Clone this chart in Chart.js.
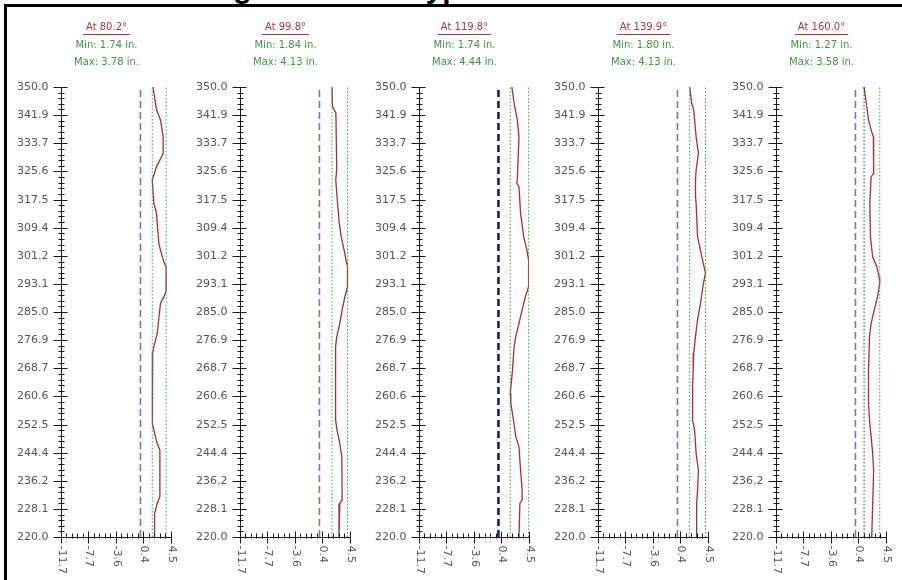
<!DOCTYPE html>
<html><head><meta charset="utf-8">
<script src="https://cdn.jsdelivr.net/npm/chart.js@4.4.1/dist/chart.umd.min.js"></script>
<style>
html,body{margin:0;padding:0;background:#fff;}
body{width:902px;height:580px;position:relative;overflow:hidden;}
#frame{position:absolute;left:4px;top:4px;width:1000px;height:700px;border-left:3px solid #000;border-top:3px solid #000;}
#title{position:absolute;top:-27px;left:0;font:bold 30px "Liberation Sans",Arial,sans-serif;line-height:30px;white-space:nowrap;color:#000;}
canvas{position:absolute;top:0;}
</style></head><body>
<div id="frame"></div>
<div id="title">Ultrasonic Scanning Results: Typical Section</div>
<canvas id="c0" width="178" height="580" style="left:0px"></canvas>
<canvas id="c1" width="178" height="580" style="left:179px"></canvas>
<canvas id="c2" width="178" height="580" style="left:358px"></canvas>
<canvas id="c3" width="178" height="580" style="left:537px"></canvas>
<canvas id="c4" width="178" height="580" style="left:715px"></canvas>
<script>
// ---- data ----
const panelAngles = ["80.2", "99.8", "119.8", "139.9", "160.0"];
const panelMin = [1.74, 1.84, 1.74, 1.80, 1.27];
const panelMax = [3.78, 4.13, 4.44, 4.13, 3.58];
const referenceLine = [0.0, 0.0, 0.0, 0.0, 0.0];
const yTickLabels = ["350.0","341.9","333.7","325.6","317.5","309.4","301.2","293.1","285.0","276.9","268.7","260.6","252.5","244.4","236.2","228.1","220.0"];
const xTickLabels = ["-11.7","-7.7","-3.6","0.4","4.5"];

const depth1 = [350, 343.4, 340.5, 335.6, 330.8, 327.0, 323.1, 316.4, 313.5, 310.6, 304.8, 302.9, 299.5, 298.1, 290.9, 289.4, 287.5, 278.8, 275.0, 273.1, 252.8, 250.9, 247.0, 245.1, 231.6, 229.7, 226.8, 220];
const wall1  = [1.84, 2.37, 2.95, 3.35, 3.35, 2.37, 1.74, 1.98, 2.37, 2.47, 2.71, 2.95, 3.44, 3.78, 3.78, 3.44, 2.95, 2.47, 1.98, 1.80, 1.76, 1.98, 2.47, 2.86, 2.86, 2.47, 2.08, 2.08];

const depth2 = [350, 344.4, 342.5, 326.2, 323.1, 318.3, 310.6, 306.7, 302.9, 300.0, 298.1, 292.3, 289.4, 285.6, 281.7, 277.9, 275.0, 253.8, 250.9, 247.0, 243.2, 230.7, 229.7, 220];
const wall2  = [1.84, 1.92, 2.42, 2.55, 2.40, 2.59, 2.92, 3.21, 3.63, 3.92, 4.13, 4.13, 3.75, 3.34, 3.00, 2.55, 2.38, 2.38, 2.59, 3.00, 3.30, 3.34, 3.00, 2.88];

const depth3 = [350, 345.3, 340.5, 335.6, 323.1, 322.2, 321.2, 313.5, 306.7, 302.9, 300.0, 292.3, 289.4, 285.6, 281.7, 277.9, 275.0, 268.2, 261.5, 258.6, 253.8, 249.0, 246.1, 239.3, 233.5, 230.7, 229.7, 220];
const wall3  = [1.98, 2.31, 2.78, 3.02, 2.78, 2.69, 3.02, 3.26, 3.73, 4.20, 4.44, 4.44, 3.97, 3.49, 3.02, 2.55, 2.31, 2.07, 1.74, 1.83, 2.21, 2.55, 3.02, 3.26, 3.49, 3.49, 3.16, 3.02];

const depth4 = [350, 345.3, 343.4, 340.5, 335.6, 330.8, 326.0, 323.1, 318.3, 316.4, 306.7, 302.9, 300.0, 296.2, 293.3, 287.5, 282.7, 277.9, 273.1, 268.2, 263.4, 253.8, 250.9, 244.1, 239.3, 233.5, 229.7, 220];
const wall4  = [1.80, 2.10, 2.40, 2.53, 2.75, 3.09, 2.75, 2.66, 2.66, 2.75, 2.96, 3.39, 3.70, 4.13, 3.83, 3.39, 2.96, 2.66, 2.40, 2.32, 2.23, 2.23, 2.53, 2.75, 3.09, 2.96, 2.83, 2.83];

const depth5 = [350, 345.3, 340.5, 337.6, 335.6, 325.0, 324.1, 316.4, 306.7, 300.9, 298.1, 295.2, 293.3, 289.4, 285.6, 281.7, 277.9, 268.2, 258.6, 253.8, 249.0, 244.1, 239.3, 229.7, 220];
const wall5  = [1.27, 1.60, 1.93, 2.31, 2.64, 2.68, 2.31, 2.12, 2.21, 2.54, 3.15, 3.48, 3.58, 3.25, 2.78, 2.31, 2.07, 1.93, 1.93, 2.07, 2.31, 2.54, 2.68, 2.54, 2.40];

const depths = [depth1, depth2, depth3, depth4, depth5];
const walls = [wall1, wall2, wall3, wall4, wall5];

// ---- styles ----
const refColors = ["#7474c4", "#7474c4", "#1c1c78", "#7474c4", "#7474c4"];
const refWidths = [1.6, 1.6, 2.6, 1.6, 1.6];
const minColors = ["#3fa33f", "#3fa33f", "#3fa33f", "#3fa33f", "#1f4a1f"];
const FONT = '"DejaVu Sans", Verdana, sans-serif';

const yVals = yTickLabels.map(parseFloat);
const xVals = xTickLabels.map(parseFloat);
const yMin = Math.min(...yVals), yMax = Math.max(...yVals);
const xMin = Math.min(...xVals), xMax = Math.max(...xVals);

const axesPlugin = {
  id: 'customAxes',
  afterDraw(chart) {
    const ctx = chart.ctx;
    const xs = chart.scales.x, ys = chart.scales.y;
    const idx = chart.options.plugins.customAxes.panel;
    const ax = Math.round(xs.getPixelForValue(xMin)) + 0.5;
    const axR = Math.round(xs.getPixelForValue(xMax)) + 0.5;
    const by = Math.round(ys.getPixelForValue(yMin)) + 0.5;
    const ty = Math.round(ys.getPixelForValue(yMax)) + 0.5;
    ctx.save();
    ctx.strokeStyle = '#1a1a1a';
    ctx.lineWidth = 1;
    const ln = (x1, y1, x2, y2) => { ctx.beginPath(); ctx.moveTo(x1, y1); ctx.lineTo(x2, y2); ctx.stroke(); };
    ln(ax, ty, ax, by);
    ln(ax, by, axR, by);
    // y ticks
    ctx.fillStyle = '#555';
    ctx.font = '11px ' + FONT;
    ctx.textAlign = 'right';
    ctx.textBaseline = 'middle';
    yVals.forEach((v, i) => {
      const py = Math.round(ys.getPixelForValue(v)) + 0.5;
      ctx.lineWidth = 1;
      ln(ax - 8, py, ax + 6, py);
      ctx.fillText(yTickLabels[i], ax - 13, py);
      if (i < yVals.length - 1) {
        const v2 = yVals[i + 1];
        for (let k = 1; k < 5; k++) {
          const pm = Math.round(ys.getPixelForValue(v + (v2 - v) * k / 5)) + 0.5;
          ln(ax - 3, pm, ax + 3, pm);
        }
      }
    });
    // x ticks
    xVals.forEach((v, i) => {
      const px = Math.round(xs.getPixelForValue(v)) + 0.5;
      ln(px, by - 6, px, by + 6);
      if (i < xVals.length - 1) {
        const v2 = xVals[i + 1];
        for (let k = 1; k < 5; k++) {
          const pm = Math.round(xs.getPixelForValue(v + (v2 - v) * k / 5)) + 0.5;
          ln(pm, by - 4, pm, by + 1);
        }
      }
      ctx.save();
      ctx.translate(px, by + 8);
      ctx.rotate(Math.PI / 2);
      ctx.textAlign = 'left';
      ctx.textBaseline = 'middle';
      ctx.fillText(xTickLabels[i], 0, 0);
      ctx.restore();
    });
    // header
    const cx = ax + 45;
    ctx.textAlign = 'center';
    ctx.textBaseline = 'middle';
    ctx.font = '10px ' + FONT;
    ctx.fillStyle = '#a83848';
    const t1 = 'At ' + panelAngles[idx] + '°';
    ctx.fillText(t1, cx, 27);
    const w = ctx.measureText(t1).width;
    ctx.strokeStyle = '#a83848';
    ln(cx - w / 2 - 3, 34.5, cx + w / 2 + 3, 34.5);
    ctx.fillStyle = '#3a9a3a';
    ctx.fillText('Min: ' + panelMin[idx].toFixed(2) + ' in.', cx, 45);
    ctx.fillText('Max: ' + panelMax[idx].toFixed(2) + ' in.', cx, 62);
    ctx.restore();
  }
};

for (let p = 0; p < 5; p++) {
  const vline = v => [{x: v, y: yMin}, {x: v, y: yMax}];
  new Chart(document.getElementById('c' + p), {
    type: 'scatter',
    data: {
      datasets: [
        { data: vline(referenceLine[p]), showLine: true, borderColor: refColors[p], borderWidth: refWidths[p], borderDash: [7, 4], pointRadius: 0 },
        { data: vline(panelMin[p]), showLine: true, borderColor: minColors[p], borderWidth: 1, borderDash: [1.5, 2], pointRadius: 0 },
        { data: vline(panelMax[p]), showLine: true, borderColor: '#3fa33f', borderWidth: 1, borderDash: [1.5, 2], pointRadius: 0 },
        { data: depths[p].map((d, i) => ({x: walls[p][i], y: d})), showLine: true, borderColor: '#a3303c', borderWidth: 1.3, pointRadius: 0, tension: 0 }
      ]
    },
    options: {
      responsive: false,
      animation: false,
      layout: { padding: { left: 61, right: 7, top: 87, bottom: 43 } },
      scales: {
        x: { type: 'linear', display: false, min: xMin, max: xMax },
        y: { type: 'linear', display: false, min: yMin, max: yMax }
      },
      plugins: { legend: { display: false }, tooltip: { enabled: false }, customAxes: { panel: p } },
      events: []
    },
    plugins: [axesPlugin]
  });
}

// place the clipped title so its descenders fall where the reference shows them
(function(){
  const c = document.createElement('canvas').getContext('2d');
  c.font = 'bold 30px "Liberation Sans", Arial, sans-serif';
  const wA = c.measureText('Ultrasonic Scanning').width;
  const wB = c.measureText(' Results: ').width;
  const s = (158 - wB) / 2;
  const el = document.getElementById('title');
  el.style.wordSpacing = s + 'px';
  el.style.left = Math.round(252 - wA - s) + 'px';
})();
</script>
</body></html>
